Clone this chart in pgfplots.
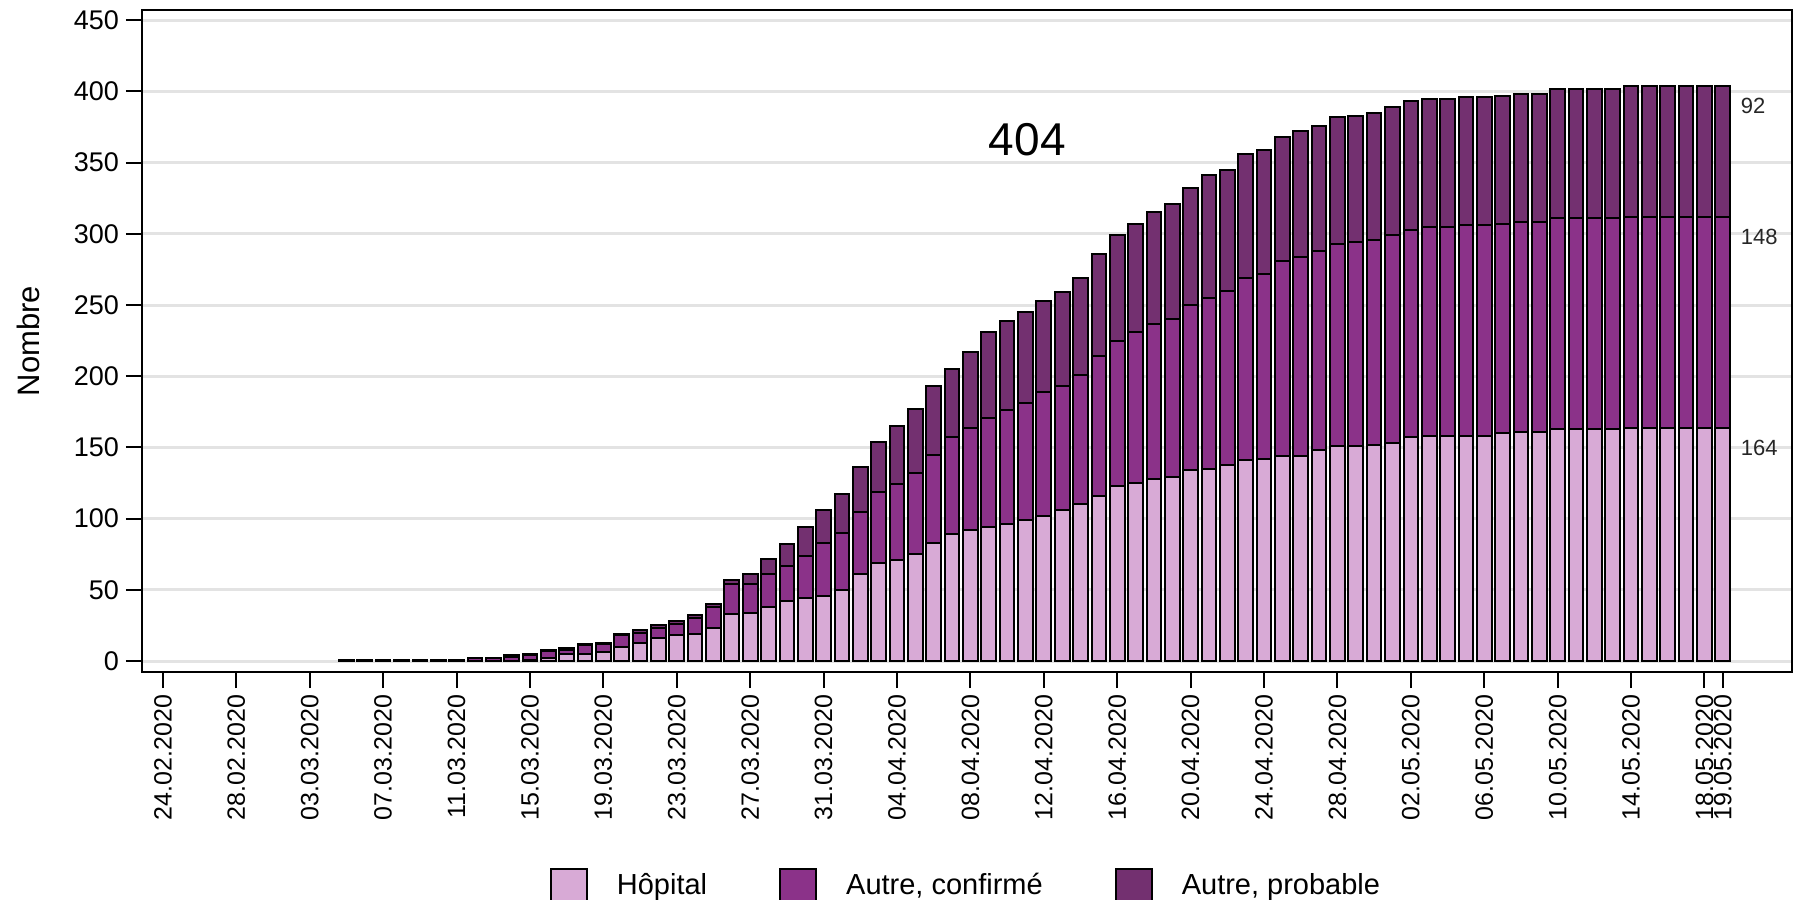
\documentclass[border=0pt]{standalone}
\usepackage{fontspec}
\setmainfont{Liberation Sans}
\usepackage{pgfplots}
\pgfplotsset{compat=1.18}
\usepackage{pgfplotstable}

\definecolor{hopital}{HTML}{D8AAD6}
\definecolor{confirme}{HTML}{8B3289}
\definecolor{probable}{HTML}{733070}
\definecolor{gridgray}{HTML}{E3E3E3}

% jour (0 = 24.02.2020), Hopital, Autre confirme, Autre probable
\pgfplotstableread{
x H C P
10 0 1 0
11 0 1 0
12 0 1 0
13 0 1 0
14 0 1 0
15 0 1 0
16 0 1 0
17 0 2 0
18 0 2 0
19 0 3 1
20 1 3 1
21 2 5 1
22 5 3 1
23 5 6 1
24 6 6 1
25 10 8 1
26 13 7 2
27 16 7 2
28 18 8 2
29 19 11 2
30 23 15 2
31 33 21 3
32 34 20 7
33 38 23 11
34 42 25 15
35 44 30 20
36 46 37 23
37 50 40 27
38 61 44 31
39 69 50 35
40 71 53 41
41 75 57 45
42 83 62 48
43 89 68 48
44 92 72 53
45 94 77 60
46 96 80 63
47 99 82 64
48 102 87 64
49 106 87 66
50 110 91 68
51 116 98 72
52 123 102 74
53 125 106 76
54 128 109 78
55 129 111 81
56 134 116 82
57 135 120 86
58 138 122 85
59 141 128 87
60 142 130 87
61 144 137 87
62 144 140 88
63 148 140 88
64 151 142 89
65 151 143 89
66 152 144 89
67 153 146 90
68 157 146 90
69 158 147 90
70 158 147 90
71 158 148 90
72 158 148 90
73 160 147 90
74 161 147 90
75 161 147 90
76 163 148 91
77 163 148 91
78 163 148 91
79 163 148 91
80 164 148 92
81 164 148 92
82 164 148 92
83 164 148 92
84 164 148 92
85 164 148 92
}\deces

\begin{document}
\begin{tikzpicture}
\begin{axis}[
  scale only axis, width=825pt, height=331pt,
  xmin=-1.14, xmax=88.77, ymin=-7.7, ymax=457.2,
  ybar stacked, bar width=0.8,
  clip=false,
  axis line style={line width=1pt},
  xtick={0,4,...,84,85},
  xticklabels={24.02.2020,28.02.2020,03.03.2020,07.03.2020,11.03.2020,15.03.2020,
    19.03.2020,23.03.2020,27.03.2020,31.03.2020,04.04.2020,08.04.2020,12.04.2020,
    16.04.2020,20.04.2020,24.04.2020,28.04.2020,02.05.2020,06.05.2020,10.05.2020,
    14.05.2020,18.05.2020,19.05.2020},
  ytick={0,50,...,450},
  xtick pos=bottom, ytick pos=left,
  tick align=outside, major tick length=8pt,
  tick style={black, line width=1pt},
  ymajorgrids, grid style={gridgray, line width=1.5pt},
  /pgf/number format/assume math mode=true,
  x tick label style={rotate=90, anchor=east, font=\fontsize{12.5}{15}\selectfont},
  y tick label style={font=\fontsize{13.5}{15}\selectfont},
  ylabel={Nombre},
  ylabel style={at={(rel axis cs:0,0.5)}, anchor=center, yshift=57pt,
    font=\fontsize{15.5}{18}\selectfont},
  every axis plot/.append style={draw=black, line width=1pt},
  legend style={draw=none, at={(0.5,-0.322)}, anchor=center, legend columns=-1,
    font=\fontsize{14.5}{17}\selectfont,
    /tikz/every even column/.append style={column sep=34pt}},
  legend image code/.code={\draw[#1, line width=1pt] (0pt,-8pt) rectangle (18pt,8pt);
    \path[draw=none, fill=none] (0pt,0pt) -- (31pt,0pt);},
]
\addplot[fill=hopital] table[x=x, y=H] {\deces};
\addlegendentry{Hôpital}
\addplot[fill=confirme] table[x=x, y=C] {\deces};
\addlegendentry{Autre, confirmé}
\addplot[fill=probable] table[x=x, y=P] {\deces};
\addlegendentry{Autre, probable}

\node[font=\fontsize{23}{27}\selectfont] at (axis cs:47.1,366) {404};
\node[anchor=west, text=black!85, font=\fontsize{11}{13}\selectfont] at (axis cs:85.6,390) {92};
\node[anchor=west, text=black!85, font=\fontsize{11}{13}\selectfont] at (axis cs:85.6,298) {148};
\node[anchor=west, text=black!85, font=\fontsize{11}{13}\selectfont] at (axis cs:85.6,150) {164};

\coordinate (ll) at (rel axis cs:0,0);
\coordinate (ur) at (rel axis cs:1,1);
\end{axis}
\pgfresetboundingbox
\path[use as bounding box] ([shift={(-71pt,-114pt)}]ll) rectangle ([shift={(1.5pt,5pt)}]ur);
\end{tikzpicture}
\end{document}
